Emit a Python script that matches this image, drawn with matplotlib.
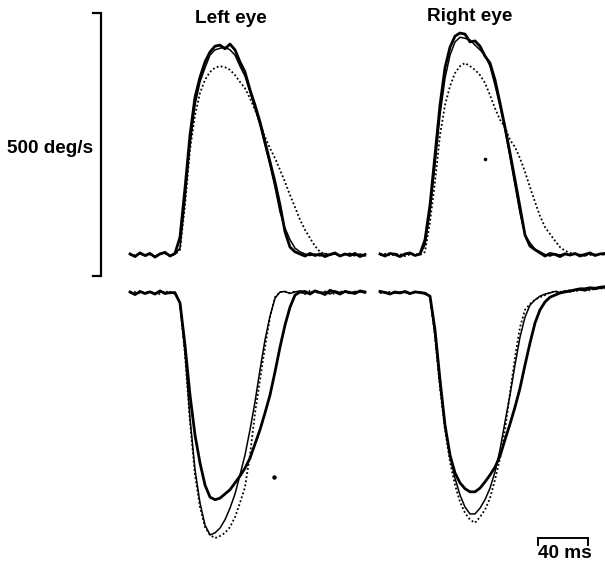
import numpy as np
import matplotlib
matplotlib.use("Agg")
import matplotlib.pyplot as plt

plt.rcParams["font.family"] = ["Liberation Sans", "DejaVu Sans"]

# ---------------------------------------------------------------- data
# eye velocity (deg/s), sampled every 4 ms from the start of each trace
STEP_MS = 4.0
TIME_LEFT_MS = np.arange(48) * STEP_MS
TIME_RIGHT_MS = np.arange(46) * STEP_MS

# left eye, rightward saccade (upper trace)
TL_THICK = [2, -3, 4, -1, 3, -4, 2, 5, -2, 3,
            34, 127, 228, 300, 338, 367, 386, 397, 399, 392,
            401, 390, 367, 348, 314, 285, 253, 215, 177, 139,
            95, 44, 15, 6, 2,
            -2, 3, -1, 2, -3, 1, 4, -2, 2, -1, 3, -3, 1]
TL_THIN = [1, -2, 3, 0, 2, -3, 3, 4, -1, 2,
           13, 105, 209, 285, 329, 356, 380, 390, 393, 395,
           390, 380, 359, 340, 310, 279, 247, 209, 171, 129,
           82, 51, 29, 13, 6, 2,
           -1, 2, -2, 3, 0, 2, -2, 1, 3, -1, 2, -2]
TL_DOT = [2, -1, 3, -2, 1, -3, 2, 3, -1, 1,
          10, 95, 200, 266, 308, 333, 348, 356, 359, 357,
          352, 342, 329, 317, 298, 276, 251, 224, 203, 184,
          162, 139, 114, 91, 67, 48, 32, 17, 6, 2,
          0, 2, -1, 1, 3, -2, 1, 0]

# right eye, rightward saccade
TR_THICK = [2, -2, 3, 1, -3, 2, 4, -1, 2,
            29, 95, 190, 285, 356, 395, 416, 422, 420, 405,
            407, 397, 378, 365, 333, 289, 243, 194, 143, 91,
            38, 17, 10, 4,
            -2, 3, 1, -3, 2, 0, 3, -2, 1, 4, -1, 2, 3]
TR_THIN = [1, -1, 2, 3, -2, 1, 3, 0, 1,
           19, 82, 171, 266, 336, 380, 405, 414, 412, 409,
           399, 390, 380, 359, 323, 283, 238, 186, 133, 80,
           38, 23, 11, 6,
           1, -2, 2, 0, 3, -1, 2, 1, -2, 3, 0, 2, 1]
TR_DOT = [0, 2, -1, 1, 2, -2, 1, 2, 0,
          6, 63, 139, 228, 285, 321, 346, 359, 365, 359,
          352, 342, 327, 304, 279, 257, 243, 219, 205, 184,
          158, 129, 101, 74, 53, 40, 27, 15, 8, 4,
          1, -1, 2, 0, 1, 2, 0]

# left eye, leftward saccade (lower trace)
BL_THICK = [2, -3, 3, -1, 2, -2, 4, -1, 1, 0,
            -19, -99, -194, -270, -323, -365, -388, -393, -390, -382,
            -374, -361, -348, -333, -314, -287, -260, -228, -194, -150,
            -103, -61, -27, -4, 2,
            3, -2, 4, 1, -3, 5, 2, -2, 3, 1, -1, 4, 2]
BL_THIN = [1, -2, 2, 0, 3, -1, 2, 1, -1, 2,
           -19, -112, -238, -336, -399, -441, -460, -456, -447, -431,
           -409, -382, -346, -308, -260, -207, -146, -89, -44, -10,
           2, 3, -1, 2, 4, -2, 1, 3, 0, 2,
           -2, 4, 1, 2, -1, 3, 2, 0]
BL_DOT = [0, 2, -1, 1, 2, 0, -2, 3, 1, 0,
          -19, -118, -245, -346, -407, -445, -460, -466, -462, -456,
          -445, -426, -399, -369, -308, -228, -165, -103, -46, -8,
          2, 2, 0, 3, 1, -1, 4, 2, 0, 3,
          1, -2, 2, 4, 0, 1, 3, 1]

# right eye, leftward saccade
BR_THICK = [3, 1, -2, 2, 0, 3, -1, 2, 1, -1,
            -6, -70, -165, -251, -308, -342, -361, -372, -378, -378,
            -371, -359, -346, -331, -310, -279, -249, -217, -181, -137,
            -95, -57, -32, -17, -8, -4, 0, 2, 4, 6,
            8, 8, 10, 9, 11, 12]
BR_THIN = [1, 2, -1, 0, 2, 1, -2, 3, 0, 1,
           -6, -80, -175, -251, -310, -352, -384, -407, -420, -420,
           -409, -393, -371, -340, -298, -245, -194, -137, -84, -46,
           -23, -13, -6, -2, 0, 3, 1, 4, 2, 5,
           6, 4, 8, 7, 9, 10]
BR_DOT = [0, 1, 2, -1, 1, 2, 0, 1, 2, 0,
          -6, -84, -181, -260, -321, -365, -397, -418, -431, -437,
          -426, -412, -390, -355, -314, -260, -190, -122, -65, -32,
          -21, -13, -8, -4, 1, 3, 2, 4, 5, 3,
          6, 7, 5, 8, 9, 8]

# stray specks on the original record (time ms, velocity deg/s)
SPECK_TR = (84, 182)
SPECK_BL = (115, -350)

BAR_DPS = 500
BAR_MS = 40

# ---------------------------------------------------------------- layout
W, H = 605, 563
PX_PER_MS = 1.25
PX_PER_DPS = 0.526

fig = plt.figure(figsize=(W / 100, H / 100), dpi=100)


def panel(x0, y0, span_ms, v_lo, v_hi):
    """axes whose t=0 sits at pixel x0 and v=0 at pixel y0"""
    top = y0 - v_hi * PX_PER_DPS
    height = (v_hi - v_lo) * PX_PER_DPS
    width = span_ms * PX_PER_MS
    ax = fig.add_axes([x0 / W, 1 - (top + height) / H, width / W, height / H])
    ax.set_xlim(0, span_ms)
    ax.set_ylim(v_lo, v_hi)
    ax.axis("off")
    return ax


def traces(ax, t, thick, thin, dot):
    ax.plot(t, dot, color="black", lw=1.3, ls=(0, (1, 1.3)), clip_on=False)
    ax.plot(t, thin, color="black", lw=1.1, clip_on=False)
    ax.plot(t, thick, color="black", lw=2.0, clip_on=False)


ax_tl = panel(130, 255, 190, -25, 450)
ax_tr = panel(380, 255, 180, -25, 450)
ax_bl = panel(130, 293, 190, -480, 25)
ax_br = panel(380, 293, 180, -480, 25)

traces(ax_tl, TIME_LEFT_MS, TL_THICK, TL_THIN, TL_DOT)
traces(ax_tr, TIME_RIGHT_MS, TR_THICK, TR_THIN, TR_DOT)
traces(ax_bl, TIME_LEFT_MS, BL_THICK, BL_THIN, BL_DOT)
traces(ax_br, TIME_RIGHT_MS, BR_THICK, BR_THIN, BR_DOT)

ax_tr.plot(*SPECK_TR, "o", color="black", ms=1.6, clip_on=False)
ax_bl.plot(*SPECK_BL, "o", color="black", ms=2.2, clip_on=False)

# 500 deg/s calibration bracket, left of the upper-left trace
bx, by, tick = -23.2, -40, 6.4
ax_tl.plot([bx - tick, bx, bx, bx - tick], [by, by, by + BAR_DPS, by + BAR_DPS],
           color="black", lw=1.6, clip_on=False, solid_joinstyle="miter")

# 40 ms time bar, lower right
tx, ty, ttick = 126.4, -466, 13
ax_br.plot([tx, tx, tx + BAR_MS, tx + BAR_MS], [ty - ttick, ty, ty, ty - ttick],
           color="black", lw=1.4, clip_on=False, solid_joinstyle="miter")

txt = dict(fontsize=13.7, fontweight="bold", color="black")
fig.text(231 / W, 1 - 23 / H, "Left eye", ha="center", va="baseline", **txt)
fig.text(470 / W, 1 - 21 / H, "Right eye", ha="center", va="baseline", **txt)
fig.text(7 / W, 1 - 153 / H, f"{BAR_DPS} deg/s", ha="left", va="baseline", **txt)
fig.text(565 / W, 1 - 558 / H, f"{BAR_MS} ms", ha="center", va="baseline", **txt)

fig.savefig("out.png", dpi=100)
